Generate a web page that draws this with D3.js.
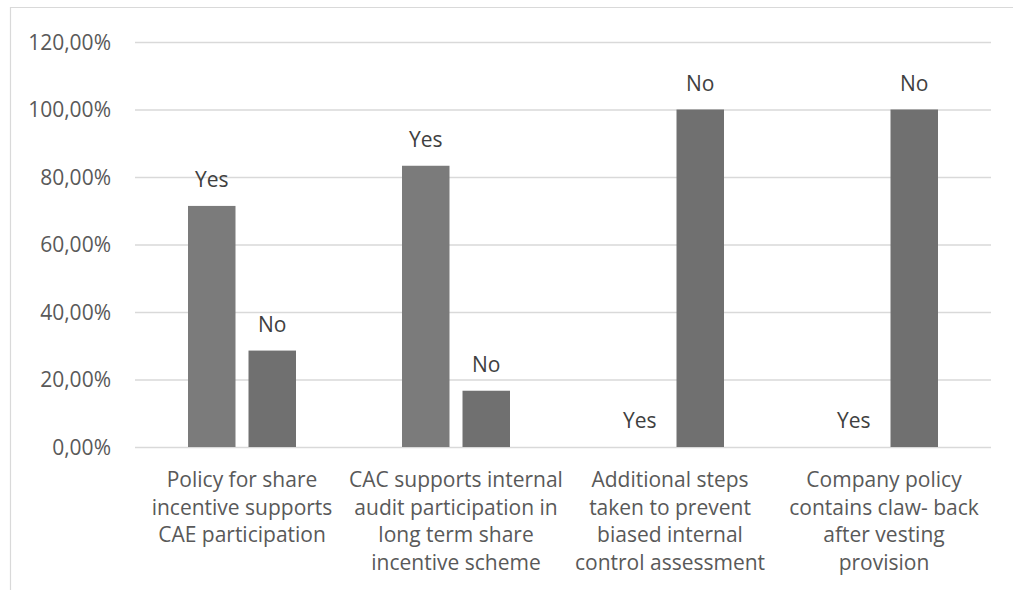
<!DOCTYPE html>
<html>
<head>
<meta charset="utf-8">
<script src="https://cdn.jsdelivr.net/npm/d3@7"></script>
<style>
  html, body { margin: 0; padding: 0; background: #fff; }
  svg { display: block; }
  text { font-family: "Open Sans", "Noto Sans", sans-serif; }
</style>
</head>
<body>
<svg id="chart" width="1013" height="590"></svg>
<script>
// Category labels, one entry per line of the wrapped label
const categories = [
  ["Policy for share", "incentive supports", "CAE participation"],
  ["CAC supports internal", "audit participation in", "long term share", "incentive scheme"],
  ["Additional steps", "taken to prevent", "biased internal", "control assessment"],
  ["Company policy", "contains claw- back", "after vesting", "provision"]
];
const seriesNames = ["Yes", "No"];
const yesValues = [71.43, 83.33, 0, 0];
const noValues = [28.57, 16.67, 100, 100];
const yTicks = [0, 20, 40, 60, 80, 100, 120];
const yTickLabels = ["0,00%", "20,00%", "40,00%", "60,00%", "80,00%", "100,00%", "120,00%"];

const seriesColors = { Yes: "#7b7b7b", No: "#707070" };

const svg = d3.select("#chart");
const plot = { left: 135, right: 991, top: 42, bottom: 447 };

// outer chart frame (left and top edges)
svg.append("path")
  .attr("d", "M10.5,590 L10.5,7.5 L1013,7.5")
  .attr("fill", "none")
  .attr("stroke", "#d9d9d9")
  .attr("stroke-width", 1.2);

const x0 = d3.scaleBand()
  .domain(d3.range(categories.length))
  .range([plot.left, plot.right])
  .paddingInner(0).paddingOuter(0);

const x1 = d3.scaleBand()
  .domain(seriesNames)
  .range([53, 161])
  .paddingInner(0.215).paddingOuter(0);

const y = d3.scaleLinear().domain([0, 120]).range([plot.bottom, plot.top]);

// horizontal gridlines
const yAxis = d3.axisLeft(y)
  .tickValues(yTicks)
  .tickSize(-(plot.right - plot.left))
  .tickFormat((d, i) => yTickLabels[i]);

const gy = svg.append("g")
  .attr("transform", `translate(${plot.left},0)`)
  .call(yAxis);
gy.select(".domain").remove();
gy.selectAll(".tick line")
  .attr("stroke", "#d9d9d9")
  .attr("stroke-width", 1.3);
gy.selectAll(".tick text")
  .attr("x", -24)
  .attr("dy", "0.35em")
  .attr("fill", "#595959")
  .style("font-size", "21px");

// bars
const rows = categories.map((c, i) => ({
  i,
  values: [
    { key: "Yes", value: yesValues[i] },
    { key: "No", value: noValues[i] }
  ]
}));

const groups = svg.append("g").selectAll("g")
  .data(rows)
  .join("g")
  .attr("transform", d => `translate(${x0(d.i)},0)`);

groups.selectAll("rect")
  .data(d => d.values)
  .join("rect")
  .attr("x", d => x1(d.key))
  .attr("width", x1.bandwidth())
  .attr("y", d => y(d.value))
  .attr("height", d => y(0) - y(d.value))
  .attr("fill", d => seriesColors[d.key]);

// data labels: series name above each bar
groups.selectAll("text.lbl")
  .data(d => d.values)
  .join("text")
  .attr("class", "lbl")
  .attr("x", d => x1(d.key) + x1.bandwidth() / 2)
  .attr("y", d => y(d.value) - 19)
  .attr("text-anchor", "middle")
  .attr("fill", "#404040")
  .style("font-size", "21px")
  .text(d => d.key);

// category axis labels
const xl = svg.append("g").selectAll("text")
  .data(categories)
  .join("text")
  .attr("text-anchor", "middle")
  .attr("fill", "#595959")
  .style("font-size", "21px")
  .attr("transform", (d, i) => `translate(${x0(i) + x0.bandwidth() / 2},${plot.bottom + 40})`);

xl.selectAll("tspan")
  .data(d => d)
  .join("tspan")
  .attr("x", 0)
  .attr("y", (d, j) => j * 27.5)
  .text(d => d);
</script>
</body>
</html>
